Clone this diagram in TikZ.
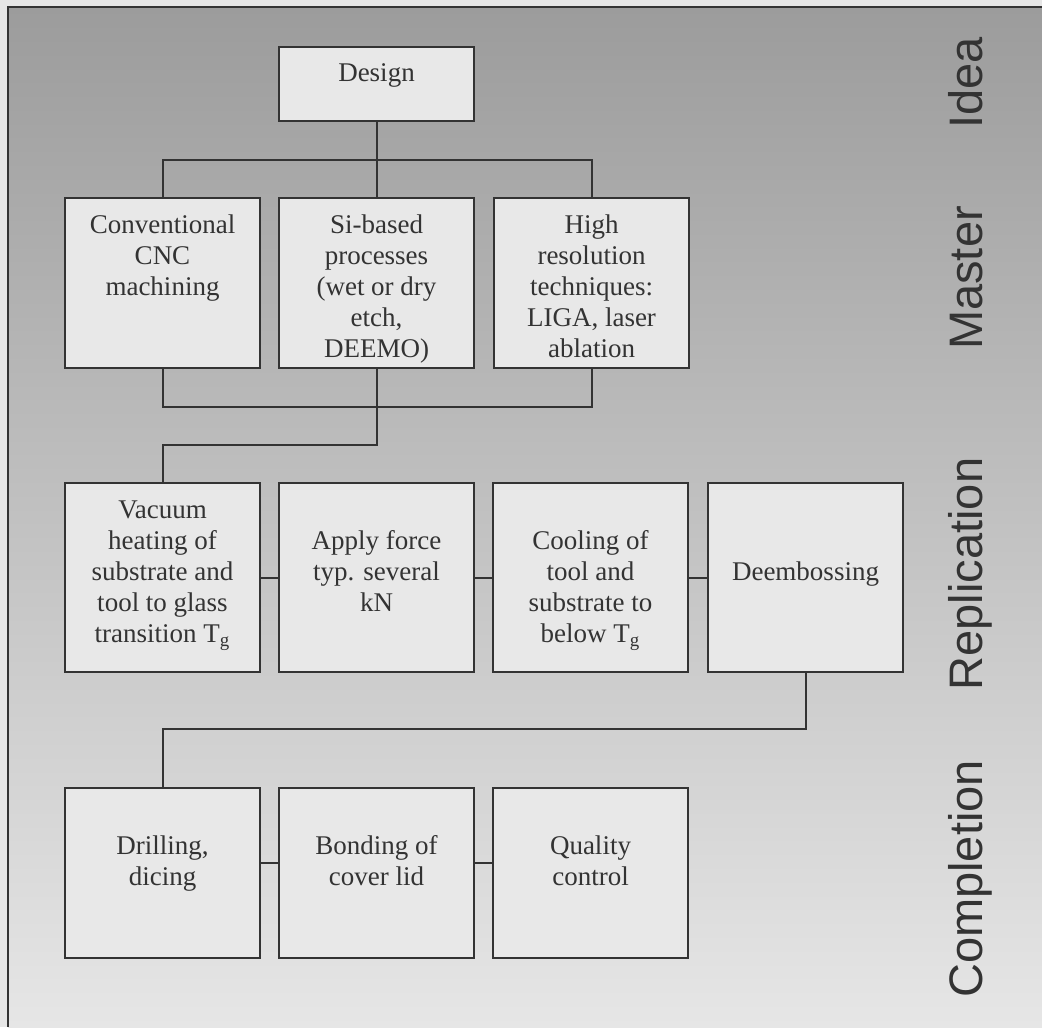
\documentclass[tikz,border=0pt]{standalone}
\usepackage{fontspec}
\setmainfont{Liberation Serif}
\newfontfamily\labfont{Liberation Sans}
\usetikzlibrary{positioning}
\definecolor{linec}{HTML}{333333}
\definecolor{boxc}{HTML}{E8E8E8}
\definecolor{bgtop}{HTML}{9C9C9C}
\definecolor{bgbot}{HTML}{E6E6E6}
\definecolor{paper}{HTML}{E6E6E6}
\newcommand{\boxtxt}[2]{\parbox[c][#1][t]{97.5pt}{\centering\rule{0pt}{17.5pt}#2\par}}
\tikzset{
  stagebox/.style={draw=linec,fill=boxc,line width=1pt,inner sep=0pt,text=linec,font=\fontsize{13.5pt}{15.5pt}\selectfont},
  phase/.style={rotate=90,anchor=base,text=linec,font=\labfont\fontsize{23.5pt}{28pt}\selectfont},
  link/.style={draw=linec,line width=1pt}
}
\begin{document}
\begin{tikzpicture}[x=0.5pt,y=0.5pt]
\useasboundingbox (0,0) rectangle (1042,-1027);
\fill[paper] (0,0) rectangle (1042,-1027);
\shade[top color=bgtop,bottom color=bgbot] (8,-7) rectangle (1042,-1027);
\draw[linec,line width=1.2pt] (8,-1027) -- (8,-7) -- (1042,-7);
% master row
\node[stagebox,anchor=north west] (m1) at (64,-197) {\boxtxt{85pt}{Conventional\\CNC\\machining}};
\node[stagebox,right=8.5pt of m1] (m2) {\boxtxt{85pt}{Si-based\\processes\\(wet or dry\\etch,\\DEEMO)}};
\node[stagebox,right=9pt of m2] (m3) {\boxtxt{85pt}{High\\resolution\\techniques:\\LIGA, laser\\ablation}};
\node[stagebox,above=37.5pt of m2] (ds) {\boxtxt{37pt}{Design}};
% replication row
\node[stagebox,below=56.5pt of m1] (r1) {\boxtxt{94.5pt}{Vacuum\\heating of\\substrate and\\tool to glass\\transition T\textsubscript{g}}};
\node[stagebox,right=8.5pt of r1] (r2) {\boxtxt{94.5pt}{\\Apply force\\typ. several\\kN}};
\node[stagebox,right=8.5pt of r2] (r3) {\boxtxt{94.5pt}{\\Cooling of\\tool and\\substrate to\\below T\textsubscript{g}}};
\node[stagebox,right=9pt of r3] (r4) {\boxtxt{94.5pt}{\\\mbox{}\\Deembossing}};
% completion row
\node[stagebox,below=57pt of r1] (c1) {\boxtxt{85pt}{\\Drilling,\\dicing}};
\node[stagebox,right=8.5pt of c1] (c2) {\boxtxt{85pt}{\\Bonding of\\cover lid}};
\node[stagebox,right=8.5pt of c2] (c3) {\boxtxt{85pt}{\\Quality\\control}};
% connectors
\draw[link] (ds.south) -- (m2.north);
\draw[link] (m1.north) -- ++(0,18.5pt) -| (m3.north);
\draw[link] (m1.south) -- ++(0,-19pt) -| (m3.south);
\draw[link] (m2.south) -- ++(0,-38pt) -| (r1.north);
\draw[link] (r1.east) -- (r2.west);
\draw[link] (r2.east) -- (r3.west);
\draw[link] (r3.east) -- (r4.west);
\draw[link] (r4.south) -- ++(0,-28pt) -| (c1.north);
\draw[link] ([yshift=5pt]c1.east) -- ([yshift=5pt]c2.west);
\draw[link] ([yshift=5pt]c2.east) -- ([yshift=5pt]c3.west);
% phases
\node[phase] (idea) at (982,-83) {Idea};
\node[phase] (master) at (982,-278) {Master};
\node[phase] (repl) at (982,-574) {Replication};
\node[phase] (compl) at (982,-879) {Completion};
\end{tikzpicture}
\end{document}
